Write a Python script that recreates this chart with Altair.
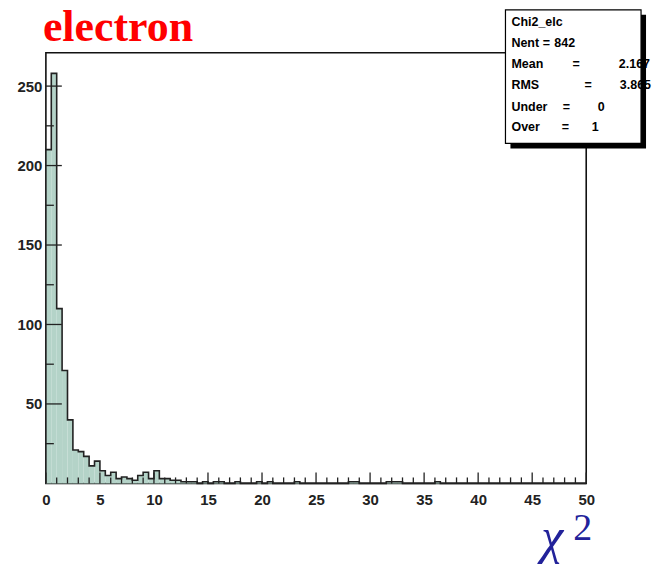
import altair as alt
import pandas as pd

# ---------------- data ----------------
bin_width = 0.5
counts = [210, 258, 110, 71, 40, 21, 20, 17, 11, 14,
          8, 5, 7, 3, 4, 3, 2, 5, 7, 3,
          8, 3, 3, 2, 2, 1, 1, 1, 0, 1,
          0, 1, 1, 0, 0, 1, 0, 0, 0, 1,
          0, 1, 0, 0, 0, 0, 1, 0, 0, 0,
          0, 0, 0, 0, 0, 0, 1, 1, 0, 0,
          0, 0, 0, 1, 1, 1, 0, 0, 0, 0,
          0, 0, 1, 0, 0, 0, 0, 0, 0, 0,
          0, 0, 0, 0, 0, 0, 0, 0, 0, 0,
          0, 0, 0, 0, 0, 0, 0, 0, 0, 0]
x_labels = [0, 5, 10, 15, 20, 25, 30, 35, 40, 45, 50]
x_minor = [v for v in range(0, 51) if v % 5 != 0]
y_labels = [50, 100, 150, 200, 250]
y_minor = [25, 75, 125, 175, 225]
stat_names = ["Chi2_elc", "Nent", "Mean", "RMS", "Under", "Over"]
stat_values = ["", "842", "2.167", "3.865", "0", "1"]
title_text = "electron"

# ---------------- build table ----------------
rows = [{"i": 0, "edge": 0.0, "count": 0}]
for k, c in enumerate(counts):
    rows.append({"i": k + 1, "edge": k * bin_width, "count": c})
rows.append({"i": len(counts) + 1, "edge": len(counts) * bin_width, "count": counts[-1]})
rows.append({"i": len(counts) + 2, "edge": len(counts) * bin_width, "count": 0})
hist = pd.DataFrame(rows)

W, H = 542, 432
xscale = alt.Scale(domain=[0, 50], nice=False, zero=False)
yscale = alt.Scale(domain=[0, 271], nice=False)
LABEL_FONT = "Liberation Sans"

x_enc = alt.X("edge:Q", scale=xscale, title=None,
              axis=alt.Axis(values=x_labels, ticks=False, domain=False, grid=False,
                            labelFont=LABEL_FONT, labelFontWeight="bold",
                            labelFontSize=15, labelPadding=9, labelColor="#222",
                            labelFlush=False, labelOverlap=False))
y_enc = alt.Y("count:Q", scale=yscale, title=None,
              axis=alt.Axis(values=y_labels, ticks=False, domain=False, grid=False,
                            labelFont=LABEL_FONT, labelFontWeight="bold",
                            labelFontSize=15, labelPadding=4, labelColor="#222",
                            labelOverlap=False))

area = alt.Chart(hist).mark_area(interpolate="step-after", color="#b4d3c8", opacity=1).encode(
    x=x_enc, y=y_enc, order=alt.Order("i:Q"))
outline = alt.Chart(hist).mark_line(interpolate="step-after", color="#222222", strokeWidth=1.6).encode(
    x=alt.X("edge:Q", scale=xscale, title=None),
    y=alt.Y("count:Q", scale=yscale, title=None),
    order=alt.Order("i:Q"))

# inward ticks (ROOT style)
def xticks(vals, length):
    return alt.Chart(pd.DataFrame({"edge": vals})).mark_rule(color="#222", strokeWidth=1.3).encode(
        x=alt.X("edge:Q", scale=xscale, title=None),
        y=alt.value(H), y2=alt.value(H - length))

def yticks(vals, length):
    return alt.Chart(pd.DataFrame({"count": vals})).mark_rule(color="#222", strokeWidth=1.3).encode(
        y=alt.Y("count:Q", scale=yscale, title=None),
        x=alt.value(0), x2=alt.value(length))

one = pd.DataFrame({"a": [0]})

# stats box
shadow = alt.Chart(one).mark_rect(color="black").encode(
    x=alt.value(466), x2=alt.value(602), y=alt.value(-38), y2=alt.value(96))
box = alt.Chart(one).mark_rect(fill="white", stroke="black", strokeWidth=1.2).encode(
    x=alt.value(461), x2=alt.value(597), y=alt.value(-43), y2=alt.value(91))

line_y = [-31, -10, 11, 32, 54, 75]
eq_x = [None, 502, 532, 544, 522, 521]
val_x = [None, 510, 606, 607, 557, 551]
val_align = [None, "left", "right", "right", "center", "center"]
FS = 12.5
stat_layers = []
for k, name in enumerate(stat_names):
    stat_layers.append(alt.Chart(one).mark_text(
        align="left", baseline="middle", font=LABEL_FONT, fontWeight="bold",
        fontSize=FS, color="black").encode(
        x=alt.value(467), y=alt.value(line_y[k]), text=alt.value(name)))
    if eq_x[k] is not None:
        stat_layers.append(alt.Chart(one).mark_text(
            align="center", baseline="middle", font=LABEL_FONT, fontWeight="bold",
            fontSize=FS, color="black").encode(
            x=alt.value(eq_x[k]), y=alt.value(line_y[k]), text=alt.value("=")))
        stat_layers.append(alt.Chart(one).mark_text(
            align=val_align[k], baseline="middle", font=LABEL_FONT, fontWeight="bold",
            fontSize=FS, color="black").encode(
            x=alt.value(val_x[k]), y=alt.value(line_y[k]), text=alt.value(stat_values[k])))

title = alt.Chart(one).mark_text(
    align="left", baseline="alphabetic", font="Liberation Serif", fontWeight="bold",
    fontSize=44, color="#ff0000").encode(
    x=alt.value(-3), y=alt.value(-12), text=alt.value(title_text))

chi = alt.Chart(one).mark_text(
    align="left", baseline="alphabetic", font="Liberation Serif", fontStyle="italic",
    fontSize=50, color="#22229a").encode(
    x=alt.value(497), y=alt.value(502), text=alt.value("χ"))
sup = alt.Chart(one).mark_text(
    align="left", baseline="alphabetic", font="Liberation Serif",
    fontSize=38, color="#22229a").encode(
    x=alt.value(529), y=alt.value(489), text=alt.value("2"))

chart = alt.layer(
    area, outline,
    xticks(x_labels, 11), xticks(x_minor, 6),
    yticks(y_labels, 16), yticks(y_minor, 8),
    shadow, box, *stat_layers, title, chi, sup
).properties(
    width=W, height=H,
    padding={"left": 38, "top": 44, "right": 70, "bottom": 83},
    autosize=alt.AutoSizeParams(type="none"),
    background="white",
).configure_view(stroke="#111111", strokeWidth=1.6)

chart.save("out.html", embed_options={"renderer": "svg", "actions": False})
